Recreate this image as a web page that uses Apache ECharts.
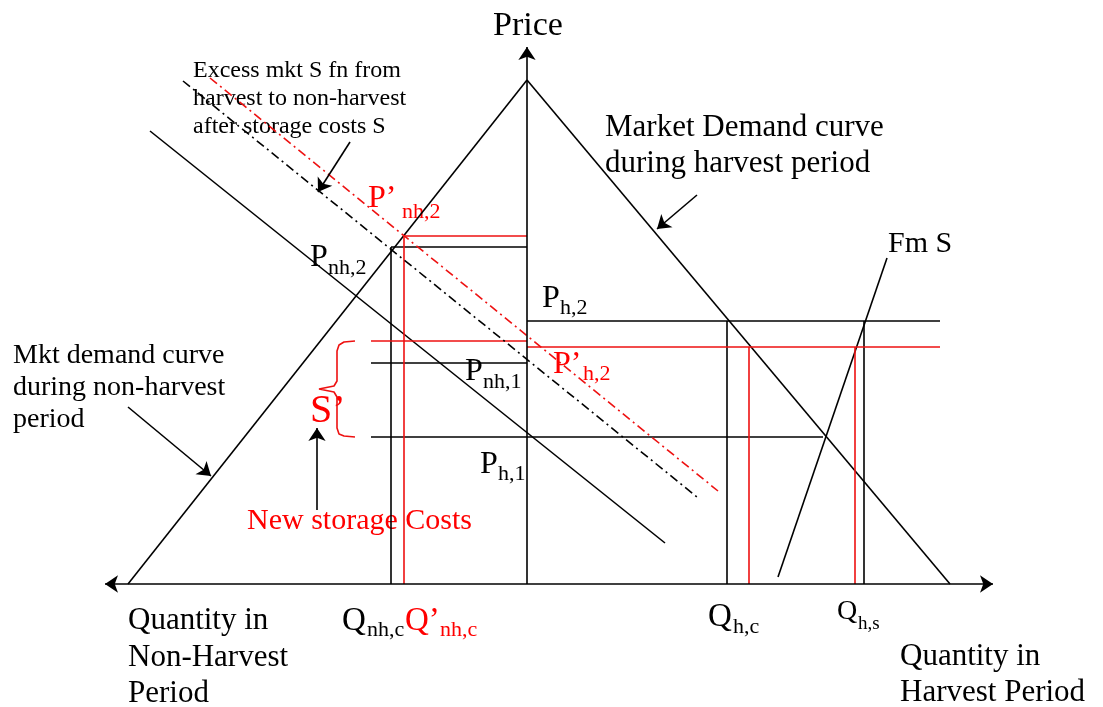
<!DOCTYPE html>
<html>
<head>
<meta charset="utf-8">
<script src="https://cdn.jsdelivr.net/npm/echarts@6/dist/echarts.min.js"></script>
<style>
  html, body { margin: 0; padding: 0; background: #fff; }
  #chart { width: 1103px; height: 707px; }
</style>
</head>
<body>
<div id="chart"></div>
<script>
// diagram coordinates (value axes map 1:1 onto the 1103x707 canvas)
const blackSegs = [
  [[128, 584], [527, 80]],   // supply (left leg)
  [[527, 80], [950, 584]],   // market demand, harvest period
  [[150, 131], [665, 543]],  // mkt demand, non-harvest period
  [[778, 577], [887, 258]],  // Fm S
  [[391, 247], [527, 247]],  // P nh,2
  [[391, 247], [391, 584]],  // Q nh,c
  [[527, 321], [940, 321]],  // P h,2
  [[371, 363], [527, 363]],  // P nh,1
  [[371, 437], [823, 437]],  // P h,1
  [[727, 321], [727, 584]],  // Q h,c
  [[864, 321], [864, 584]]   // Q h,s
]
const redSegs = [
  [[404, 236], [527, 236]],
  [[404, 236], [404, 584]],
  [[371, 341], [527, 341]],
  [[527, 347], [940, 347]],
  [[749, 347], [749, 584]],
  [[855, 347], [855, 584]]
]
const blackDash = [[[183, 81], [697, 497]]]
const redDash = [[[210, 78], [718, 491]]]
const pointerArrows = [
  [[350, 142], [318, 192]],
  [[697, 195], [657, 229]],
  [[128, 407], [211, 476]],
  [[317, 510], [317, 428]]
]
const xAxisLine = [[[527, 584], [105, 584]], [[527, 584], [993, 584]]]
const yAxisLine = [[[527, 584], [527, 47]]]
const brace = [
  [355, 341], [344, 342], [339, 345], [337, 351], [337, 381], [334, 386],
  [319, 389], [334, 392], [337, 397], [337, 428], [339, 434], [344, 436], [355, 437]
]

// plain text: [text, x, baseline, size, colour]
const plainTexts = [
  ["Price", 493, 35, 34, "#000"],
  ["Excess mkt S fn from", 193, 77, 24, "#000"],
  ["harvest to non-harvest", 193, 105, 24, "#000"],
  ["after storage costs S", 193, 133, 24, "#000"],
  ["Market Demand curve", 605, 136, 31, "#000"],
  ["during harvest period", 605, 172, 31, "#000"],
  ["Fm S", 888, 252, 30, "#000"],
  ["Mkt demand curve", 13, 363, 28, "#000"],
  ["during non-harvest", 13, 395, 28, "#000"],
  ["period", 13, 427, 28, "#000"],
  ["Quantity in", 128, 629, 31, "#000"],
  ["Non-Harvest", 128, 666, 31, "#000"],
  ["Period", 128, 702, 31, "#000"],
  ["Quantity in", 900, 665, 31, "#000"],
  ["Harvest Period", 900, 701, 31, "#000"],
  ["New storage Costs", 247, 529, 30, "#f00"],
  ["S\u2019", 310, 422, 40, "#f00"]
]
// subscripted labels: [main, sub, x, baseline, size, subX, subBaseline, subSize, colour]
const subTexts = [
  ["P\u2019", "nh,2", 368, 207, 32, 402, 218, 22, "#f00"],
  ["P", "nh,2", 310, 266, 32, 328, 274, 22, "#000"],
  ["P", "h,2", 542, 307, 32, 560, 314, 22, "#000"],
  ["P\u2019", "h,2", 553, 373, 32, 583, 380, 22, "#f00"],
  ["P", "nh,1", 465, 380, 32, 483, 388, 22, "#000"],
  ["P", "h,1", 480, 473, 32, 498, 480, 22, "#000"],
  ["Q", "nh,c", 342, 630, 33, 367, 636, 22, "#000"],
  ["Q\u2019", "nh,c", 405, 630, 33, 440, 636, 22, "#f00"],
  ["Q", "h,c", 708, 626, 33, 733, 633, 22, "#000"],
  ["Q", "h,s", 837, 619, 28, 858, 629, 19, "#000"]
]

const FONT = '"Liberation Serif", "Times New Roman", serif'
const RED = "#ee1111"

const txt = (s, x, base, size, color) => ({
  type: "text",
  style: {
    text: s,
    x: x,
    y: base - size * 0.27,
    fill: color,
    font: size + "px " + FONT,
    align: "left",
    verticalAlign: "middle"
  }
})

const graphics = []
plainTexts.forEach((t) => graphics.push(txt(t[0], t[1], t[2], t[3], t[4])))
subTexts.forEach((t) => {
  graphics.push(txt(t[0], t[2], t[3], t[4], t[8]))
  graphics.push(txt(t[1], t[5], t[6], t[7], t[8]))
})

const segSeries = (segs, color, type, symbol) => ({
  type: "lines",
  coordinateSystem: "cartesian2d",
  symbol: symbol || "none",
  symbolSize: 13,
  lineStyle: { color: color, width: 1.6, type: type || "solid", opacity: 1 },
  data: segs.map((c) => ({ coords: c })),
  silent: true
})

const chart = echarts.init(document.getElementById("chart"))
chart.setOption({
  animation: false,
  backgroundColor: "#fff",
  grid: { left: 0, right: 0, top: 0, bottom: 0 },
  xAxis: { type: "value", min: 0, max: 1103, show: false },
  yAxis: { type: "value", min: 0, max: 707, inverse: true, show: false },
  series: [
    segSeries(blackSegs, "#000"),
    segSeries(redSegs, RED),
    segSeries(blackDash, "#000", [9, 4, 2, 4]),
    segSeries(redDash, RED, [9, 4, 2, 4]),
    segSeries(pointerArrows, "#000", "solid", ["none", "arrow"]),
    segSeries(xAxisLine, "#000", "solid", ["none", "arrow"]),
    segSeries(yAxisLine, "#000", "solid", ["none", "arrow"]),
    {
      type: "line",
      data: brace,
      showSymbol: false,
      silent: true,
      lineStyle: { color: RED, width: 1.6 }
    }
  ],
  graphic: graphics
})
</script>
</body>
</html>
